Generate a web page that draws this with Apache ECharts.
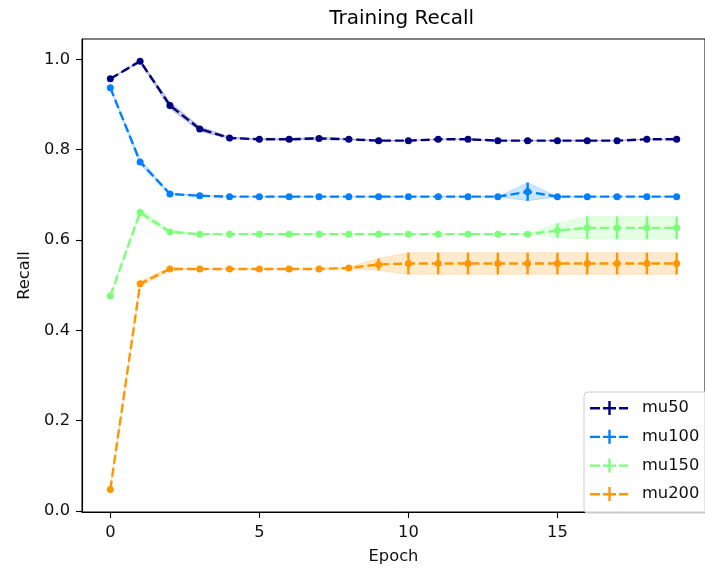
<!DOCTYPE html>
<html>
<head>
<meta charset="utf-8">
<script src="https://cdn.jsdelivr.net/npm/echarts@6/dist/echarts.min.js"></script>
<style>html,body{margin:0;padding:0;background:#fff}#c{width:705px;height:570px}</style>
</head>
<body>
<div id="c"></div>
<script>
// ---- data ----
const epochs = [0,1,2,3,4,5,6,7,8,9,10,11,12,13,14,15,16,17,18,19];
const seriesNames = ['mu50','mu100','mu150','mu200'];
const mu50 = [0.957,0.996,0.898,0.846,0.826,0.823,0.823,0.825,0.823,0.820,0.820,0.823,0.823,0.820,0.820,0.820,0.820,0.820,0.823,0.823];
const mu50Err = [0,0.002,0.007,0.005,0.002,0.001,0.001,0.003,0.001,0.001,0,0,0,0,0,0,0,0,0,0];
const mu100 = [0.937,0.773,0.702,0.698,0.696,0.696,0.696,0.696,0.696,0.696,0.696,0.696,0.696,0.696,0.707,0.696,0.696,0.696,0.696,0.696];
const mu100Err = [0,0.006,0.002,0,0,0,0,0,0,0,0,0,0,0,0.020,0,0,0,0,0];
const mu150 = [0.476,0.661,0.618,0.613,0.613,0.613,0.613,0.613,0.613,0.613,0.613,0.613,0.613,0.613,0.613,0.621,0.627,0.627,0.627,0.627];
const mu150Err = [0,0.008,0.004,0,0,0,0,0,0,0,0,0,0,0,0,0.016,0.025,0.025,0.025,0.025];
const mu200 = [0.048,0.503,0.536,0.536,0.536,0.536,0.536,0.536,0.538,0.546,0.548,0.548,0.548,0.548,0.548,0.548,0.548,0.548,0.548,0.548];
const mu200Err = [0,0.006,0.003,0,0,0,0,0,0.002,0.013,0.024,0.024,0.024,0.024,0.024,0.024,0.024,0.024,0.024,0.024];
const xTickLabels = [0,5,10,15];
const yTickLabels = [0.0,0.2,0.4,0.6,0.8,1.0];

const colors = ['#000080','#0080ff','#7bff7b','#ff9700'];
const means = [mu50, mu100, mu150, mu200];
const errs = [mu50Err, mu100Err, mu150Err, mu200Err];

const FONT = 'DejaVu Sans';
const LW = 2.4;
const FS = 16.3;

const series = [];
seriesNames.forEach((name, k) => {
  const col = colors[k];
  series.push({
    type: 'line', name: name,
    data: epochs.map((e, i) => [e, means[k][i]]),
    symbol: 'circle', symbolSize: 7, showAllSymbol: true,
    lineStyle: { color: col, width: LW, type: [9, 3.9] },
    itemStyle: { color: col, borderWidth: 0 },
    emphasis: { disabled: true }, silent: true, animation: false, z: 3
  });
  series.push({
    type: 'custom', name: name + '_err',
    data: epochs.map((e, i) => [e, means[k][i] - errs[k][i], means[k][i] + errs[k][i]]),
    renderItem: (params, api) => {
      const lo = api.value(1), hi = api.value(2);
      if (hi - lo <= 0) return null;
      const p1 = api.coord([api.value(0), lo]);
      const p2 = api.coord([api.value(0), hi]);
      return { type: 'line', shape: { x1: p1[0], y1: p1[1], x2: p2[0], y2: p2[1] },
               style: { stroke: col, lineWidth: LW } };
    },
    silent: true, animation: false, z: 3
  });
  series.push({
    type: 'custom', name: name + '_band',
    data: epochs.map((e, i) => [e, means[k][i] - errs[k][i], means[k][i] + errs[k][i]]),
    renderItem: (params, api) => {
      if (params.dataIndexInside !== 0) return null;
      const n = epochs.length;
      const pts = [];
      for (let j = 0; j < n; j++) pts.push(api.coord([api.value(0, j), api.value(2, j)]));
      for (let j = n - 1; j >= 0; j--) pts.push(api.coord([api.value(0, j), api.value(1, j)]));
      return { type: 'polygon', shape: { points: pts },
               style: { fill: col, opacity: 0.2, stroke: col, lineWidth: 1 } };
    },
    clip: true, silent: true, animation: false, z: 4
  });
});

const chart = echarts.init(document.getElementById('c'), null, { renderer: 'canvas' });
chart.setOption({
  animation: false,
  backgroundColor: '#fff',
  textStyle: { fontFamily: FONT },
  grid: { left: 82, top: 39, width: 639, height: 474, show: true, borderColor: '#000', borderWidth: 1, backgroundColor: 'transparent' },
  xAxis: {
    type: 'value', min: -0.95, max: 19.95,
    name: 'Epoch', nameLocation: 'middle', nameGap: 37,
    nameTextStyle: { fontFamily: FONT, fontSize: FS, color: '#111' },
    axisLine: { show: true, onZero: false, lineStyle: { color: '#000', width: 1.1 } },
    axisTick: { show: true, length: 6, lineStyle: { color: '#000', width: 1.1 }, customValues: xTickLabels },
    axisLabel: { fontFamily: FONT, fontSize: FS, color: '#111', margin: 13, customValues: xTickLabels,
                 formatter: v => String(v) },
    splitLine: { show: false }
  },
  yAxis: {
    type: 'value', min: -0.002, max: 1.045,
    name: 'Recall', nameLocation: 'middle', nameGap: 47, nameRotate: 90,
    nameTextStyle: { fontFamily: FONT, fontSize: FS, color: '#111' },
    axisLine: { show: true, onZero: false, lineStyle: { color: '#000', width: 1.1 } },
    axisTick: { show: true, length: 6, lineStyle: { color: '#000', width: 1.1 }, customValues: yTickLabels },
    axisLabel: { fontFamily: FONT, fontSize: FS, color: '#111', margin: 12, customValues: yTickLabels,
                 formatter: v => v.toFixed(1) },
    splitLine: { show: false }
  },
  legend: {
    data: seriesNames,
    orient: 'vertical', left: 584, top: 392,
    padding: [8, 40, 11, 6],
    itemWidth: 38, itemHeight: 14, itemGap: 12.7,
    icon: 'path://M0,6h10v2.4h-10z M13,6h13v2.4h-13z M18.3,0h2.4v14h-2.4z M29,6h9v2.4h-9z',
    itemStyle: { borderWidth: 0 },
    backgroundColor: 'rgba(255,255,255,0.8)',
    borderColor: '#cccccc', borderWidth: 1, borderRadius: 4,
    textStyle: { fontFamily: FONT, fontSize: FS, color: '#111', padding: [0, 0, 0, 9] },
    selectedMode: false
  },
  graphic: [{
    type: 'text', x: 401.7, y: 9,
    style: { text: 'Training Recall', fontFamily: FONT, fontSize: 20, fill: '#000', align: 'center', verticalAlign: 'top' }
  }],
  series: series
});
</script>
</body>
</html>
